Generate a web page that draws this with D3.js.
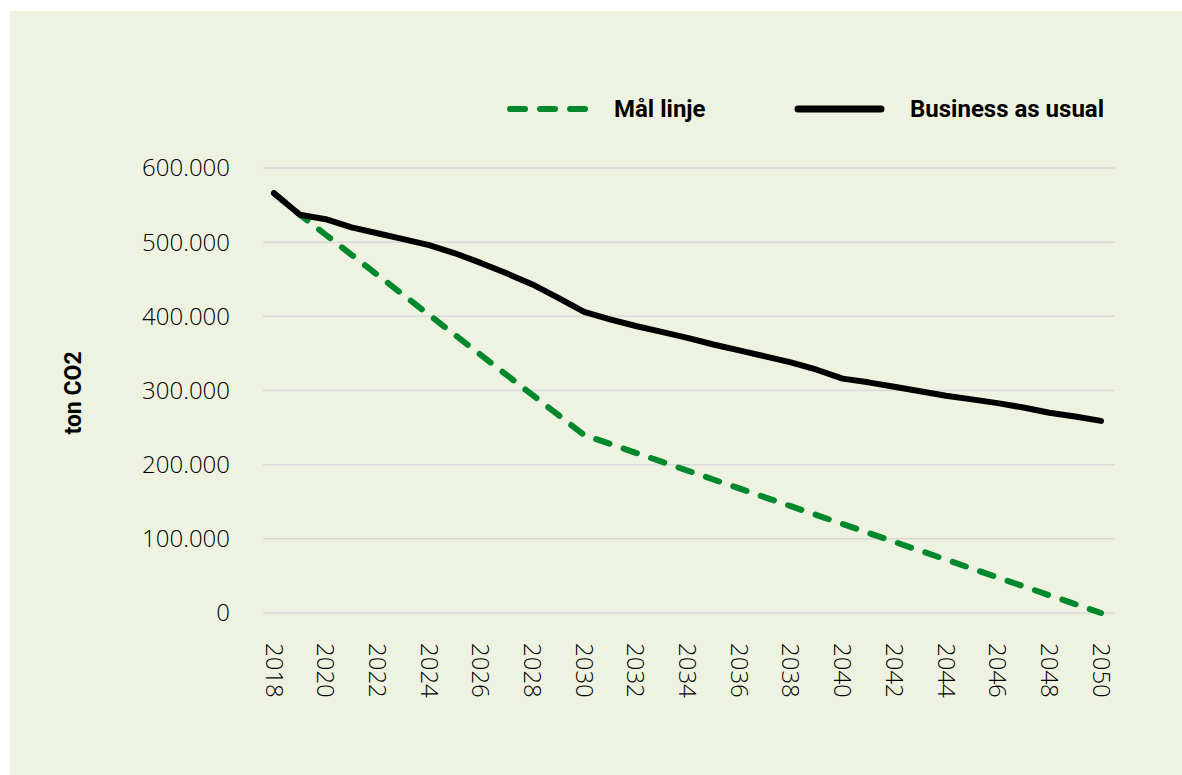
<!DOCTYPE html>
<html>
<head>
<meta charset="utf-8">
<script src="https://cdn.jsdelivr.net/npm/d3@7"></script>
<style>
  body { margin: 0; background: #fff; }
  svg { display: block; }
  .tick-label { font-family: "Open Sans", sans-serif; font-weight: 300; font-size: 24px; fill: #000; }
  .legend-label, .y-title { font-family: Roboto, "Liberation Sans", sans-serif; font-weight: bold; fill: #000; }
</style>
</head>
<body>
<div id="chart"></div>
<script>
// data
var years = [2018, 2019, 2020, 2021, 2022, 2023, 2024, 2025, 2026, 2027, 2028, 2029, 2030,
             2031, 2032, 2033, 2034, 2035, 2036, 2037, 2038, 2039, 2040,
             2041, 2042, 2043, 2044, 2045, 2046, 2047, 2048, 2049, 2050];

var malLinje = [566000, 537000, 510000, 483000, 456000, 429000, 402000, 375000, 348000, 321000, 294000, 267000, 240000,
                228000, 216000, 204000, 192000, 180000, 168000, 156000, 144000, 132000, 120000,
                108000, 96000, 84000, 72000, 60000, 48000, 36000, 24000, 12000, 0];

var businessAsUsual = [566000, 537000, 531000, 520000, 512000, 504000, 496000, 485000, 472000, 458000, 443000, 425000, 406000,
                       396000, 387000, 379000, 371000, 362000, 354000, 346000, 338000, 328000, 316000,
                       311000, 305000, 299000, 293000, 288000, 283000, 277000, 270000, 265000, 259000];

var xTickYears = [2018, 2020, 2022, 2024, 2026, 2028, 2030, 2032, 2034, 2036, 2038, 2040, 2042, 2044, 2046, 2048, 2050];
var yTicks = [0, 100000, 200000, 300000, 400000, 500000, 600000];
var seriesNames = ["Mål linje", "Business as usual"];
var yTitle = "ton CO2";

var width = 1182, height = 775;
var green = "#00892c";

var svg = d3.select("#chart").append("svg")
    .attr("width", width)
    .attr("height", height);

// panel background
svg.append("rect")
    .attr("x", 10).attr("y", 11)
    .attr("width", width - 10).attr("height", height - 11)
    .attr("fill", "#eef3e1");

var xScale = d3.scaleLinear().domain([2018, 2050]).range([274, 1101]);
var yScale = d3.scaleLinear().domain([0, 600000]).range([613, 168]);

var nf = d3.formatLocale({decimal: ",", thousands: ".", grouping: [3], currency: ["", " kr"]}).format(",d");

// gridlines
svg.append("g").selectAll("line")
    .data(yTicks)
    .enter().append("line")
    .attr("x1", 263).attr("x2", 1115)
    .attr("y1", function(d) { return yScale(d); })
    .attr("y2", function(d) { return yScale(d); })
    .attr("stroke", "#d9d9d9")
    .attr("stroke-width", 1.5);

// y tick labels
svg.append("g").selectAll("text")
    .data(yTicks)
    .enter().append("text")
    .attr("class", "tick-label")
    .attr("x", 230)
    .attr("y", function(d) { return yScale(d); })
    .attr("dy", "0.35em")
    .attr("text-anchor", "end")
    .text(function(d) { return nf(d); });

// x tick labels, rotated to read downwards
svg.append("g").selectAll("text")
    .data(xTickYears)
    .enter().append("text")
    .attr("class", "tick-label")
    .attr("transform", function(d) { return "translate(" + xScale(d) + ",643) rotate(90)"; })
    .attr("dy", "0.35em")
    .attr("text-anchor", "start")
    .text(function(d) { return d; });

// y title
svg.append("text")
    .attr("class", "y-title")
    .attr("transform", "translate(73,393) rotate(-90)")
    .attr("dy", "0.35em")
    .attr("text-anchor", "middle")
    .style("font-size", "23px")
    .text(yTitle);

var line = d3.line()
    .x(function(d) { return xScale(d[0]); })
    .y(function(d) { return yScale(d[1]); });

svg.append("path")
    .attr("d", line(d3.zip(years, malLinje)))
    .attr("fill", "none")
    .attr("stroke", green)
    .attr("stroke-width", 6)
    .attr("stroke-linecap", "round")
    .attr("stroke-dasharray", "14 15");

svg.append("path")
    .attr("d", line(d3.zip(years, businessAsUsual)))
    .attr("fill", "none")
    .attr("stroke", "#000")
    .attr("stroke-width", 6)
    .attr("stroke-linecap", "round")
    .attr("stroke-linejoin", "round");

// legend
var legend = svg.append("g");
legend.append("line")
    .attr("x1", 510).attr("x2", 586).attr("y1", 109).attr("y2", 109)
    .attr("stroke", green).attr("stroke-width", 6)
    .attr("stroke-linecap", "round")
    .attr("stroke-dasharray", "15 15");
legend.append("text")
    .attr("class", "legend-label")
    .attr("x", 614).attr("y", 109).attr("dy", "0.35em")
    .style("font-size", "24px")
    .text(seriesNames[0]);
legend.append("line")
    .attr("x1", 798).attr("x2", 881).attr("y1", 109).attr("y2", 109)
    .attr("stroke", "#000").attr("stroke-width", 7)
    .attr("stroke-linecap", "round");
legend.append("text")
    .attr("class", "legend-label")
    .attr("x", 910).attr("y", 109).attr("dy", "0.35em")
    .style("font-size", "24px")
    .text(seriesNames[1]);
</script>
</body>
</html>
